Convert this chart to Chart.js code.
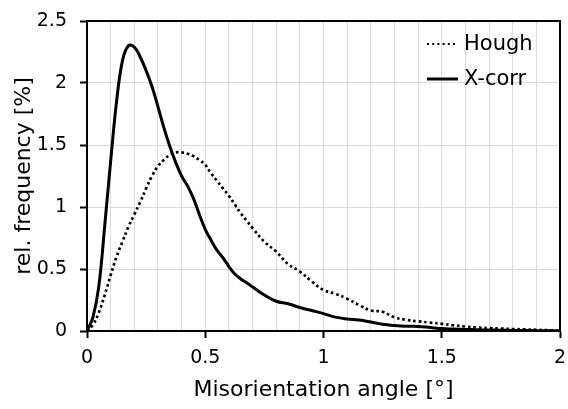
<!DOCTYPE html>
<html>
<head>
<meta charset="utf-8">
<script src="https://cdn.jsdelivr.net/npm/chart.js@4/dist/chart.umd.min.js"></script>
<style>
  html, body { margin: 0; padding: 0; background: #ffffff; }
  #wrap { width: 568px; height: 409px; position: relative; }
</style>
</head>
<body>
<div id="wrap"><canvas id="c" width="568" height="409"></canvas></div>
<script>
const xValues = [0,0.025,0.05,0.075,0.1,0.125,0.15,0.175,0.2,0.225,0.25,0.275,0.3,0.325,0.35,0.375,0.4,0.425,0.45,0.475,0.5,0.525,0.55,0.575,0.6,0.625,0.65,0.675,0.7,0.75,0.8,0.85,0.9,0.95,1.0,1.05,1.1,1.15,1.2,1.25,1.3,1.35,1.4,1.45,1.5,1.55,1.6,1.65,1.7,1.75,1.8,1.85,1.9,1.95,2.0];
const houghValues = [0,0.05,0.15,0.29,0.45,0.6,0.72,0.84,0.94,1.04,1.15,1.25,1.33,1.38,1.42,1.44,1.44,1.43,1.41,1.38,1.34,1.27,1.21,1.15,1.09,1.02,0.95,0.89,0.83,0.72,0.64,0.54,0.48,0.40,0.33,0.30,0.26,0.21,0.165,0.155,0.11,0.09,0.078,0.068,0.058,0.046,0.036,0.028,0.023,0.02,0.016,0.013,0.01,0.006,0.003];
const xcorrValues = [0,0.11,0.36,0.85,1.37,1.85,2.18,2.30,2.29,2.21,2.1,1.97,1.81,1.64,1.49,1.36,1.25,1.17,1.07,0.94,0.82,0.73,0.65,0.59,0.52,0.46,0.42,0.39,0.355,0.29,0.24,0.22,0.19,0.165,0.14,0.112,0.097,0.088,0.072,0.054,0.044,0.038,0.037,0.029,0.02,0.016,0.013,0.01,0.008,0.007,0.005,0.004,0.003,0.002,0];
const seriesNames = ["Hough", "X-corr"];
const xTitle = "Misorientation angle [°]";
const yTitle = "rel. frequency [%]";

const FONT = "'DejaVu Sans', Verdana, sans-serif";
const isMajor = v => Math.abs(v * 2 - Math.round(v * 2)) < 1e-6;
const fmt = v => String(Math.round(v * 10) / 10);

const framePlugin = {
  id: 'frame',
  afterDatasetsDraw(chart) {
    const a = chart.chartArea, ctx = chart.ctx;
    ctx.save();
    ctx.strokeStyle = '#000';
    ctx.lineWidth = 2;
    ctx.strokeRect(a.left, a.top, a.right - a.left, a.bottom - a.top);
    ctx.restore();
  }
};

const legendPlugin = {
  id: 'innerLegend',
  afterDraw(chart) {
    const ctx = chart.ctx;
    const a = chart.chartArea;
    const x0 = a.right - 133, x1 = x0 + 31;
    const ys = [a.top + 23, a.top + 58];
    ctx.save();
    ctx.font = "21px " + FONT;
    ctx.textBaseline = 'middle';
    ctx.fillStyle = '#000';
    chart.data.datasets.forEach((ds, i) => {
      const y = ys[i];
      ctx.beginPath();
      const dashed = ds.borderDash && ds.borderDash.length;
      ctx.setLineDash(dashed ? [2, 3.2] : []);
      ctx.lineWidth = dashed ? 2 : 3;
      ctx.strokeStyle = ds.borderColor;
      ctx.moveTo(x0, y);
      ctx.lineTo(x1, y);
      ctx.stroke();
      ctx.setLineDash([]);
      ctx.fillText(ds.label, x1 + 6, y + 1);
    });
    ctx.restore();
  }
};

new Chart(document.getElementById('c'), {
  type: 'line',
  data: {
    datasets: [
      {
        label: seriesNames[0],
        data: xValues.map((x, i) => ({ x: x, y: houghValues[i] })),
        borderColor: '#000',
        borderWidth: 2.7,
        borderDash: [2.6, 2.9],
        pointRadius: 0,
        fill: false,
        tension: 0.4
      },
      {
        label: seriesNames[1],
        data: xValues.map((x, i) => ({ x: x, y: xcorrValues[i] })),
        borderColor: '#000',
        borderWidth: 3,
        pointRadius: 0,
        fill: false,
        tension: 0.4
      }
    ]
  },
  options: {
    responsive: false,
    animation: false,
    devicePixelRatio: 1,
    layout: { padding: { left: 8, right: 8, top: 21, bottom: 6 } },
    plugins: { legend: { display: false }, tooltip: { enabled: false } },
    scales: {
      x: {
        type: 'linear',
        min: 0, max: 2,
        afterFit: s => { s.height = 72; s.paddingLeft = 0; s.paddingRight = 0; },
        ticks: {
          stepSize: 0.1,
          autoSkip: false,
          maxRotation: 0,
          padding: 9,
          color: '#000',
          font: { family: FONT, size: 19 },
          callback: v => isMajor(v) ? fmt(v) : ''
        },
        grid: {
          color: ctx => (ctx.tick && Math.abs(ctx.tick.value) < 1e-6) ? 'rgba(0,0,0,0)' : '#dadada',
          lineWidth: 1,
          tickLength: 7,
          tickColor: ctx => (ctx.tick && isMajor(ctx.tick.value)) ? '#000' : 'rgba(0,0,0,0)',
          tickWidth: 2
        },
        border: { color: '#000', width: 2 },
        title: {
          display: true, text: xTitle, color: '#000',
          font: { family: FONT, size: 22 },
          padding: { top: 5, bottom: 0 }
        }
      },
      y: {
        min: 0, max: 2.5,
        afterFit: s => { s.width = 79; s.paddingTop = 0; s.paddingBottom = 0; },
        ticks: {
          stepSize: 0.5,
          padding: 13,
          color: '#000',
          font: { family: FONT, size: 19 },
          callback: v => fmt(v)
        },
        grid: {
          color: ctx => (ctx.tick && Math.abs(ctx.tick.value) < 1e-6) ? 'rgba(0,0,0,0)' : '#dadada',
          lineWidth: 1,
          tickLength: 7,
          tickColor: '#000',
          tickWidth: 2
        },
        border: { color: '#000', width: 2 },
        title: {
          display: true, text: yTitle, color: '#000',
          font: { family: FONT, size: 22 },
          padding: { top: 3, bottom: 2 }
        }
      }
    }
  },
  plugins: [framePlugin, legendPlugin]
});
</script>
</body>
</html>
